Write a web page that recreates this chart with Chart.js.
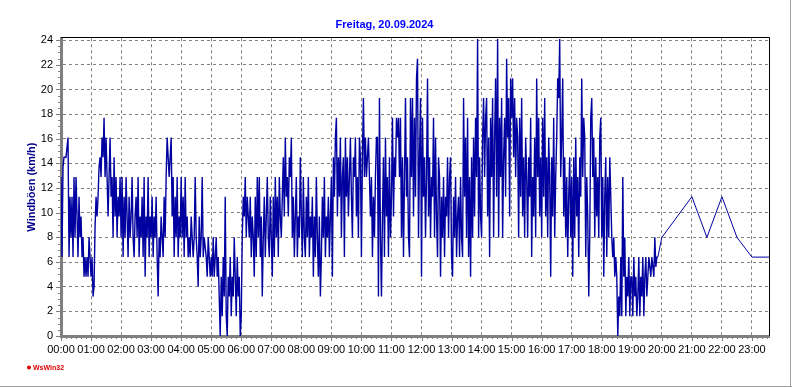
<!DOCTYPE html>
<html>
<head>
<meta charset="utf-8">
<script src="https://cdn.jsdelivr.net/npm/chart.js@4.4.1/dist/chart.umd.min.js"></script>
<style>
  html, body { margin: 0; padding: 0; background: #fff; }
  canvas { display: block; }
</style>
</head>
<body>
<canvas id="windChart" width="792" height="387"></canvas>
<script>
// gusts in km/h, one reading every 2 minutes, one array per hour
const h00 = [12.9, 6.4, 13.7, 14.5, 14.5, 14.5, 15.3, 16.1, 6.4, 11.3, 8.0, 11.3, 6.4, 12.9, 8.0, 12.9, 9.7, 6.4, 11.3, 8.0, 9.7, 6.4, 8.0, 4.8, 6.4, 4.8, 6.4, 4.8, 8.0, 6.4];
const h01 = [4.8, 6.4, 3.2, 4.0, 8.8, 11.3, 9.7, 11.3, 13.7, 14.5, 12.9, 16.1, 14.5, 17.7, 12.9, 16.1, 12.9, 9.7, 12.9, 16.1, 11.3, 12.9, 8.0, 14.5, 9.7, 12.9, 8.0, 11.3, 9.7, 12.9];
const h02 = [8.0, 12.9, 6.4, 11.3, 8.0, 12.9, 9.7, 6.4, 11.3, 8.0, 9.7, 12.9, 8.0, 6.4, 9.7, 11.3, 8.0, 12.9, 6.4, 9.7, 8.0, 11.3, 6.4, 12.9, 4.8, 9.7, 8.0, 12.9, 6.4, 9.7];
const h03 = [8.0, 11.3, 6.4, 9.7, 8.0, 11.3, 6.4, 3.2, 8.0, 6.4, 9.7, 8.0, 6.4, 11.3, 8.0, 12.9, 16.1, 14.5, 12.9, 14.5, 16.1, 9.7, 12.9, 6.4, 11.3, 8.0, 12.9, 6.4, 9.7, 8.0];
const h04 = [12.9, 8.0, 11.3, 6.4, 12.9, 8.0, 9.7, 6.4, 8.0, 6.4, 9.7, 8.0, 6.4, 8.0, 12.9, 8.0, 6.4, 4.0, 9.7, 6.4, 8.0, 12.9, 6.4, 8.0, 7.2, 6.4, 4.8, 8.0, 6.4, 4.8];
const h05 = [6.4, 4.8, 8.0, 4.8, 6.4, 8.0, 4.8, 6.4, 3.2, 0.0, 4.8, 1.6, 6.4, 3.2, 11.3, 1.6, 0.0, 4.8, 3.2, 6.4, 1.6, 4.8, 3.2, 8.0, 4.8, 1.6, 6.4, 3.2, 4.8, 0.0];
const h06 = [1.6, 8.0, 11.3, 9.7, 12.9, 8.0, 11.3, 9.7, 8.0, 11.3, 6.4, 9.7, 8.0, 4.8, 11.3, 6.4, 12.9, 8.0, 12.9, 6.4, 9.7, 3.2, 8.0, 11.3, 6.4, 9.7, 12.9, 8.0, 6.4, 11.3];
const h07 = [8.0, 4.8, 11.3, 6.4, 12.9, 8.0, 11.3, 6.4, 12.9, 9.7, 8.0, 11.3, 14.5, 9.7, 16.1, 11.3, 12.9, 9.7, 14.5, 12.9, 16.1, 8.0, 11.3, 6.4, 9.7, 12.9, 6.4, 9.7, 8.0, 14.5];
const h08 = [9.7, 6.4, 12.9, 8.0, 6.4, 11.3, 8.0, 12.9, 6.4, 9.7, 8.0, 11.3, 4.8, 9.7, 6.4, 12.9, 8.0, 4.8, 9.7, 3.2, 6.4, 11.3, 8.0, 12.9, 6.4, 9.7, 8.0, 11.3, 6.4, 9.7];
const h09 = [12.9, 4.8, 14.5, 11.3, 16.1, 17.7, 9.7, 14.5, 11.3, 16.1, 8.0, 12.9, 14.5, 6.4, 16.1, 11.3, 14.5, 9.7, 12.9, 16.1, 11.3, 8.0, 14.5, 12.9, 16.1, 9.7, 12.9, 8.0, 16.1, 14.5];
const h10 = [6.4, 14.5, 19.3, 12.9, 16.1, 12.9, 14.5, 16.1, 12.9, 9.7, 12.9, 6.4, 11.3, 8.0, 12.9, 16.1, 16.1, 3.2, 19.3, 8.0, 3.2, 9.7, 14.5, 6.4, 16.1, 9.7, 12.9, 6.4, 14.5, 8.0];
const h11 = [11.3, 17.7, 9.7, 14.5, 12.9, 17.7, 16.1, 17.7, 12.9, 17.7, 8.0, 14.5, 6.4, 12.9, 19.3, 11.3, 14.5, 8.0, 6.4, 19.3, 12.9, 19.3, 9.7, 17.7, 11.3, 20.9, 22.5, 8.0, 14.5, 19.3];
const h12 = [4.8, 17.7, 11.3, 14.5, 8.0, 12.9, 20.9, 9.7, 14.5, 8.0, 12.9, 11.3, 17.7, 8.0, 16.1, 9.7, 6.4, 14.5, 12.9, 4.8, 11.3, 8.0, 12.9, 6.4, 11.3, 9.7, 14.5, 8.0, 12.9, 14.5];
const h13 = [6.4, 4.8, 11.3, 8.0, 12.9, 6.4, 9.7, 11.3, 6.4, 12.9, 8.0, 6.4, 19.3, 11.3, 16.1, 8.0, 17.7, 6.4, 12.9, 4.8, 14.5, 8.0, 16.1, 9.7, 17.7, 12.9, 24.1, 8.0, 14.5, 9.7];
const h14 = [8.0, 16.1, 19.3, 12.9, 17.7, 19.3, 9.7, 16.1, 6.4, 17.7, 12.9, 19.3, 8.0, 16.1, 20.9, 11.3, 24.1, 8.0, 17.7, 12.9, 19.3, 8.0, 14.5, 17.7, 11.3, 22.5, 16.1, 19.3, 9.7, 20.9];
const h15 = [17.7, 20.9, 14.5, 19.3, 12.9, 17.7, 16.1, 8.0, 17.7, 11.3, 19.3, 9.7, 14.5, 8.0, 16.1, 12.9, 8.0, 14.5, 11.3, 17.7, 6.4, 12.9, 9.7, 16.1, 8.0, 20.9, 12.9, 17.7, 9.7, 14.5];
const h16 = [8.0, 17.7, 11.3, 19.3, 9.7, 14.5, 8.0, 16.1, 12.9, 4.8, 14.5, 9.7, 17.7, 8.0, 12.9, 16.1, 20.9, 19.3, 24.1, 12.9, 16.1, 20.9, 9.7, 14.5, 8.0, 12.9, 6.4, 11.3, 14.5, 8.0];
const h17 = [12.9, 4.8, 14.5, 8.0, 16.1, 9.7, 12.9, 6.4, 14.5, 11.3, 20.9, 12.9, 17.7, 16.1, 6.4, 12.9, 9.7, 3.2, 8.0, 17.7, 19.3, 12.9, 16.1, 8.0, 14.5, 9.7, 12.9, 8.0, 16.1, 17.7];
const h18 = [8.0, 12.9, 4.8, 11.3, 14.5, 6.4, 12.9, 8.0, 14.5, 11.3, 8.0, 6.4, 8.0, 4.8, 6.4, 4.8, 0.0, 3.2, 1.6, 6.4, 1.6, 12.9, 4.8, 8.0, 1.6, 4.8, 3.2, 6.4, 1.6, 4.8];
const h19 = [4.8, 1.6, 6.4, 3.2, 4.8, 1.6, 3.2, 6.4, 1.6, 4.8, 3.2, 6.4, 1.6, 4.8, 6.4, 3.2, 4.8, 6.4, 5.6, 4.8, 6.4, 5.6, 4.8, 8.0, 5.6, 6.4, 6.4];

// later in the evening only a few readings
const tailTimes = ["20:00", "21:00", "21:30", "22:00", "22:30", "23:00", "23:40"];
const tailValues = [8.0, 11.3, 8.0, 11.3, 8.0, 6.4, 6.4];

const yTicks = [0, 2, 4, 6, 8, 10, 12, 14, 16, 18, 20, 22, 24];

const hours = [h00, h01, h02, h03, h04, h05, h06, h07, h08, h09,
               h10, h11, h12, h13, h14, h15, h16, h17, h18, h19];

const points = [];
hours.forEach((vals, h) => {
    vals.forEach((v, i) => points.push({ x: h * 60 + i * 2, y: v }));
});
tailTimes.forEach((t, k) => {
    const [hh, mm] = t.split(":").map(Number);
    points.push({ x: hh * 60 + mm, y: tailValues[k] });
});

Chart.defaults.font.family = '"Liberation Sans", Arial, sans-serif';
Chart.defaults.font.size = 11;
Chart.defaults.color = "#000";

const framePlugin = {
    id: "frame",
    beforeDraw(chart) {
        const ctx = chart.ctx;
        ctx.save();
        ctx.fillStyle = "#fff";
        ctx.fillRect(0, 0, chart.width, chart.height);
        ctx.restore();
    },
    afterDraw(chart) {
        const { ctx, chartArea: a, scales: { x, y } } = chart;
        ctx.save();
        // black frame on top and right
        ctx.strokeStyle = "#000";
        ctx.lineWidth = 1;
        ctx.beginPath();
        ctx.moveTo(a.left, Math.round(a.top) - 0.5);
        ctx.lineTo(Math.round(a.right) + 0.5, Math.round(a.top) - 0.5);
        ctx.lineTo(Math.round(a.right) + 0.5, a.bottom);
        ctx.stroke();

        // small ticks along the axes
        ctx.strokeStyle = "#808080";
        ctx.beginPath();
        for (let m = 0; m <= x.max; m += 10) {
            const px = Math.round(x.getPixelForValue(m)) + 0.5;
            const len = m % 60 === 0 ? 5 : 3;
            ctx.moveTo(px, a.bottom);
            ctx.lineTo(px, a.bottom + len);
        }
        for (let v = 0; v <= 24; v += 0.5) {
            const py = Math.round(y.getPixelForValue(v)) + 0.5;
            const len = v % 2 === 0 ? 5 : 3;
            ctx.moveTo(a.left, py);
            ctx.lineTo(a.left - len, py);
        }
        ctx.stroke();

        // outer frame, right and bottom
        ctx.fillStyle = "#a0a0a0";
        ctx.fillRect(0, chart.height - 1, chart.width, 1);
        ctx.fillRect(chart.width - 2, 0, 1, chart.height);

        // program mark
        ctx.fillStyle = "#e00000";
        ctx.beginPath();
        ctx.arc(29, 367.5, 2, 0, Math.PI * 2);
        ctx.fill();
        ctx.font = 'bold 7px "Liberation Sans", Arial, sans-serif';
        ctx.textBaseline = "middle";
        ctx.fillText("WsWin32", 33, 368);
        ctx.restore();
    }
};

new Chart(document.getElementById("windChart").getContext("2d"), {
    type: "line",
    data: {
        datasets: [{
            data: points,
            borderColor: "#0000a0",
            borderWidth: 1,
            // readings every 2 min are drawn a bit heavier than the sparse evening part
            segment: { borderWidth: c => (c.p1.parsed.x >= 1200 ? 1 : 1.4) },
            pointRadius: 0,
            tension: 0,
            fill: false
        }]
    },
    options: {
        responsive: false,
        animation: false,
        devicePixelRatio: 1,
        events: [],
        layout: { padding: { left: 0, right: 23, top: 0, bottom: 21 } },
        plugins: {
            legend: { display: false },
            tooltip: { enabled: false },
            title: {
                display: true,
                text: "Freitag, 20.09.2024",
                color: "#0000ff",
                font: { size: 11, weight: "bold" },
                padding: { top: 18, bottom: 7 }
            }
        },
        scales: {
            x: {
                type: "linear",
                min: 0,
                max: 1414,
                ticks: {
                    stepSize: 60,
                    includeBounds: false,
                    autoSkip: false,
                    maxRotation: 0,
                    padding: 7,
                    callback: v => String(v / 60).padStart(2, "0") + ":00"
                },
                grid: { color: "#808080", lineWidth: 1, drawTicks: false },
                border: { color: "#808080", width: 3, dash: [3, 3] },
                afterFit: s => { s.height = 30; }
            },
            y: {
                min: 0,
                max: 24.16,
                afterBuildTicks: s => { s.ticks = yTicks.map(v => ({ value: v })); },
                ticks: { padding: 8 },
                grid: { color: "#808080", lineWidth: 1, drawTicks: false },
                border: { color: "#808080", width: 3, dash: [3, 3] },
                title: {
                    display: true,
                    text: "Windböen (km/h)",
                    color: "#00008b",
                    font: { size: 11, weight: "bold" },
                    padding: { top: 25, bottom: 0 }
                },
                afterFit: s => { s.width = 61; }
            }
        }
    },
    plugins: [framePlugin]
});
</script>
</body>
</html>
